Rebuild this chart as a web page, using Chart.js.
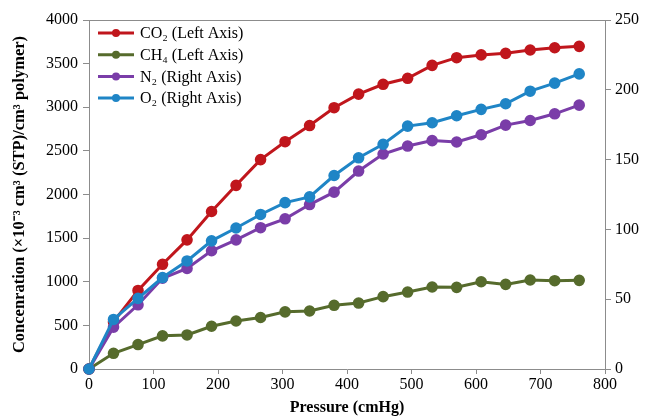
<!DOCTYPE html>
<html>
<head>
<meta charset="utf-8">
<script src="https://cdn.jsdelivr.net/npm/chart.js@4"></script>
<style>
  html, body { margin: 0; padding: 0; background: #fff; }
  #wrap { width: 648px; height: 420px; }
</style>
</head>
<body>
<div id="wrap"><canvas id="sorptionChart" width="648" height="420"></canvas></div>
<script>
// pressure (cmHg)
const pressure = [0, 38, 76, 114, 152, 190, 228, 266, 304, 342, 380, 418, 456, 494, 532, 570, 608, 646, 684, 722, 760];
// left axis
const co2 = [0, 540, 900, 1200, 1480, 1805, 2105, 2400, 2605, 2790, 2995, 3150, 3263, 3332, 3480, 3568, 3600, 3618, 3656, 3682, 3698];
const ch4 = [0, 180, 280, 380, 390, 490, 550, 590, 655, 665, 730, 756, 829, 882, 940, 936, 1000, 970, 1020, 1012, 1016];
// right axis
const n2 = [0, 30, 46, 65, 72, 84.7, 92.5, 101.2, 107.6, 117.8, 126.7, 141.8, 154, 159.7, 163.6, 162.6, 167.8, 174.7, 178, 182.8, 189];
const o2 = [0, 35.5, 50.6, 65.5, 77.4, 91.8, 101, 110.7, 119.2, 123.3, 138.6, 151.3, 161, 174, 176.4, 181.4, 186, 190, 199, 204.8, 211.4];

const xTicks = [0, 100, 200, 300, 400, 500, 600, 700, 800];
const leftTicks = [0, 500, 1000, 1500, 2000, 2500, 3000, 3500, 4000];
const rightTicks = [0, 50, 100, 150, 200, 250];

const serif = "'Liberation Serif', 'Times New Roman', serif";
const axisColor = '#8c8c8c';

const toPoints = (ys) => pressure.map((p, i) => ({ x: p, y: ys[i] }));
const plain = (v) => String(v);

function series(label, ys, color, axis, order) {
    return {
        label: label,
        data: toPoints(ys),
        yAxisID: axis,
        borderColor: color,
        backgroundColor: color,
        pointBackgroundColor: color,
        pointBorderColor: color,
        borderWidth: 3,
        pointRadius: 4.3,
        pointHoverRadius: 4.3,
        tension: 0,
        clip: false,
        order: order
    };
}

// frame around plot area + legend drawn inside it
const framePlugin = {
    id: 'frame',
    beforeDatasetsDraw(chart) {
        const { ctx, chartArea: a } = chart;
        ctx.save();
        ctx.strokeStyle = axisColor;
        ctx.lineWidth = 1;
        ctx.beginPath();
        ctx.moveTo(a.left, a.top + 0.5);
        ctx.lineTo(a.right, a.top + 0.5);
        ctx.stroke();
        ctx.restore();
    },
    afterDatasetsDraw(chart) {
        const { ctx, chartArea: a } = chart;
        ctx.save();
        ctx.font = '16px ' + serif;
        ctx.textBaseline = 'middle';
        chart.data.datasets.forEach((ds, i) => {
            const y = a.top + 13 + i * 21.7;
            const x0 = a.left + 9;
            ctx.strokeStyle = ds.borderColor;
            ctx.lineWidth = 3;
            ctx.beginPath();
            ctx.moveTo(x0, y);
            ctx.lineTo(x0 + 36, y);
            ctx.stroke();
            ctx.fillStyle = ds.borderColor;
            ctx.beginPath();
            ctx.arc(x0 + 18, y, 4, 0, Math.PI * 2);
            ctx.fill();
            ctx.fillStyle = '#000';
            ctx.fillText(ds.label, x0 + 42, y + 1);
        });
        ctx.restore();
    }
};

new Chart(document.getElementById('sorptionChart'), {
    type: 'line',
    data: {
        datasets: [
            series('CO\u2082 (Left Axis)', co2, '#C0161C', 'y', 2),
            series('CH\u2084 (Left Axis)', ch4, '#566B2C', 'y', 3),
            series('N\u2082 (Right Axis)', n2, '#7A3DA8', 'y1', 1),
            series('O\u2082 (Right Axis)', o2, '#1F85C6', 'y1', 0)
        ]
    },
    plugins: [framePlugin],
    options: {
        responsive: false,
        animation: false,
        layout: { padding: { top: 20, left: 0, right: 0, bottom: 0 } },
        plugins: { legend: { display: false }, tooltip: { enabled: false } },
        scales: {
            x: {
                type: 'linear',
                min: 0, max: 800,
                afterBuildTicks: (s) => { s.ticks = xTicks.map(v => ({ value: v })); },
                afterFit: (s) => { s.height = 51; },
                border: { color: axisColor, width: 1 },
                grid: { drawOnChartArea: false, color: axisColor, tickLength: 5 },
                ticks: { color: '#000', padding: 1, callback: plain, font: { family: serif, size: 16 } },
                title: { display: true, text: 'Pressure (cmHg)', color: '#000', padding: { top: 0, bottom: 3 },
                         font: { family: serif, size: 16, weight: 'bold' } }
            },
            y: {
                position: 'left',
                min: 0, max: 4000,
                afterBuildTicks: (s) => { s.ticks = leftTicks.map(v => ({ value: v })); },
                afterFit: (s) => { s.width = 89; },
                border: { color: axisColor, width: 1 },
                grid: { drawOnChartArea: false, color: axisColor, tickLength: 6 },
                ticks: { color: '#000', padding: 5, callback: plain, font: { family: serif, size: 16 } },
                title: { display: true, text: 'Concenration (\u00d710\u207b\u00b3 cm\u00b3 (STP)/cm\u00b3 polymer)', color: '#000',
                         padding: { top: 10, bottom: 0 }, font: { family: serif, size: 16.5, weight: 'bold' } }
            },
            y1: {
                position: 'right',
                min: 0, max: 250,
                afterBuildTicks: (s) => { s.ticks = rightTicks.map(v => ({ value: v })); },
                afterFit: (s) => { s.width = 43; },
                border: { color: axisColor, width: 1 },
                grid: { drawOnChartArea: false, color: axisColor, tickLength: 6 },
                ticks: { color: '#000', padding: 4, callback: plain, font: { family: serif, size: 16 } }
            }
        }
    }
});
</script>
</body>
</html>
